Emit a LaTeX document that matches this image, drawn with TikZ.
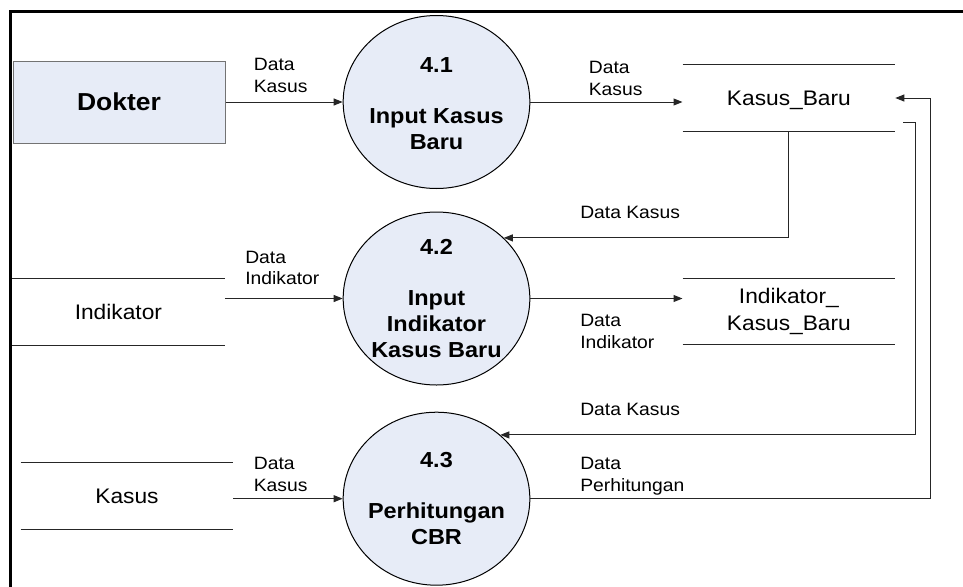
\documentclass[tikz,border=0pt]{standalone}
\usepackage{fontspec}
\setmainfont[FakeStretch=1.08]{Liberation Sans}
\usetikzlibrary{shapes.geometric,arrows.meta,calc}
\definecolor{procfill}{RGB}{231,236,247}
\begin{document}
\begin{tikzpicture}[x=0.75pt,y=-0.75pt,
  line/.style={draw=black!85, line width=0.75pt},
  flow/.style={line, -{Triangle[length=6.75pt,width=5.25pt]}},
  proc/.style={ellipse, draw=black, line width=0.75pt, fill=procfill,
    minimum width=140pt, minimum height=129.75pt, inner sep=0pt},
  ptext/.style={align=center, inner sep=0pt,
    font=\fontsize{16.3}{19.35}\selectfont\bfseries},
  store/.style={minimum width=159.2pt, minimum height=49.5pt, inner sep=0pt,
    font=\fontsize{15.8}{20}\selectfont},
  lbl/.style={inner sep=0pt, anchor=west, align=left,
    font=\fontsize{13.4}{16.2}\selectfont},
  lblone/.style={inner sep=0pt, anchor=west,
    font=\fontsize{13.4}{16.2}\selectfont, text height=9.6pt, text depth=0pt},
  capc/.style={text height=#1, text depth=0pt},
]
\useasboundingbox (0,0) rectangle (963,586);
\clip (0,0) rectangle (963,586);

% outer frame
\draw[line width=2.25pt] (10.3,11.7) rectangle (1000,620);

% external entity
\node[draw=black!55, fill=procfill, line width=0.75pt, minimum width=159pt,
  minimum height=61.5pt, inner sep=0pt, font=\fontsize{18.4}{22}\selectfont\bfseries,
  capc=13.2pt] (dok) at (119,102) {Dokter};

% processes
\node[proc] (p1) at (436.5,102) {};
\node[proc] (p2) at (436.5,298.5) {};
\node[proc] (p3) at (436.5,498.7) {};
\node[ptext] (t1) at (436.5,103.7) {4.1\\[19.35pt]Input Kasus\\Baru};
\node[ptext] (t2) at (436.5,298.3) {4.2\\[19.35pt]Input\\Indikator\\Kasus Baru};
\node[ptext] (t3) at (436.5,498.3) {4.3\\[19.35pt]Perhitungan\\CBR};

% data stores
\node[store, capc=11.3pt] (kb) at (788.9,98) {Kasus\_Baru};
\node[store, capc=11.3pt] (ind) at (118.4,311.8) {Indikator};
\node[store, align=center] (ikb) at (788.9,311.3) {Indikator\_\\Kasus\_Baru};
\node[store, capc=11.3pt] (kas) at (127,495.9) {Kasus};
\foreach \s in {kb,ind,ikb,kas}{
  \draw[line] (\s.north west) -- (\s.north east) (\s.south west) -- (\s.south east);
}

% flow labels
\node[lbl] (l1) at (253.6,75.6) {Data\\Kasus};
\node[lbl] (l2) at (588.6,78.3) {Data\\Kasus};
\node[lblone] (l3) at (580,212) {Data Kasus};
\node[lbl] (l4) at (245,268) {Data\\Indikator};
\node[lbl] (l5) at (580,331.7) {Data\\Indikator};
\node[lblone] (l6) at (580,409) {Data Kasus};
\node[lbl] (l7) at (253.6,474.3) {Data\\Kasus};
\node[lbl] (l8) at (580,476.2) {Data\\Perhitungan};

% connectors
\coordinate (kbout) at (903.3,122.7);
\coordinate (loopx) at (930,98);
\draw[flow] (dok.east) -- (p1.west);
\draw[flow] (p1.east) -- (p1.east -| kb.west);
\draw[flow] (kb.south) |- (p2.42);
\draw[flow] (ind.east |- p2.west) -- (p2.west);
\draw[flow] (p2.east) -- (p2.east -| ikb.west);
\draw[flow] (kas.east |- p3.west) -- (p3.west);
\draw[flow] (kbout) -- ++(12.4,0) |- (p3.45);
\draw[flow] (p3.east) -| (loopx) -- (kb.east);
\end{tikzpicture}
\end{document}
